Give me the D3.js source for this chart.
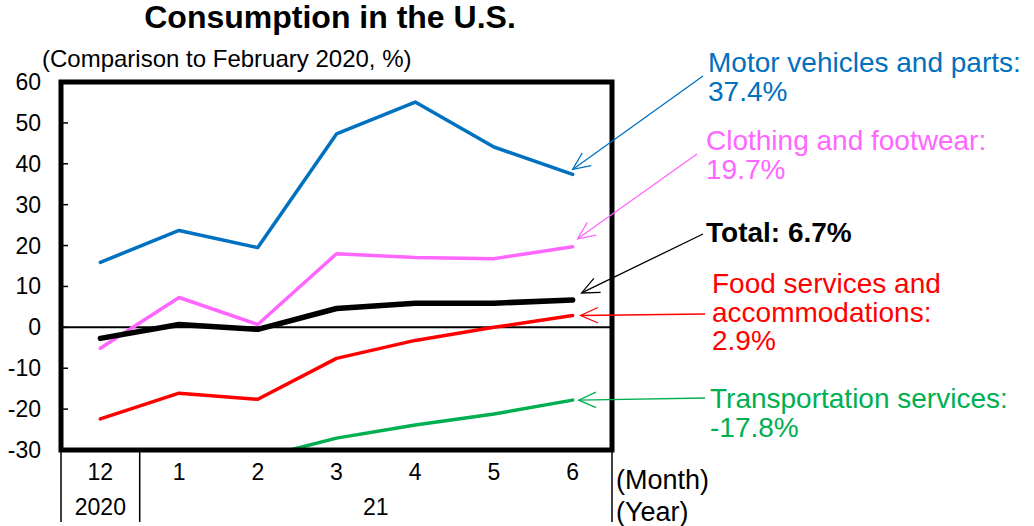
<!DOCTYPE html>
<html>
<head>
<meta charset="utf-8">
<script src="https://cdn.jsdelivr.net/npm/d3@7"></script>
<style>
  body { margin: 0; background: #fff; }
  text { font-family: Arial, "Liberation Sans", sans-serif; }
</style>
</head>
<body>
<svg id="chart" width="1034" height="526"></svg>
<script>
// data
var months = ["12", "1", "2", "3", "4", "5", "6"];
var yearLabels = ["2020", "21"];
var yTicks = [60, 50, 40, 30, 20, 10, 0, -10, -20, -30];

var motor = [15.9, 23.7, 19.5, 47.3, 55.1, 44.1, 37.4];
var clothing = [-5.1, 7.3, 0.7, 18.0, 17.1, 16.8, 19.7];
var total = [-2.7, 0.7, -0.5, 4.6, 5.9, 5.9, 6.7];
var food = [-22.4, -16.1, -17.6, -7.6, -3.2, 0.0, 2.9];
var transport = [-35.0, -33.5, -32.0, -27.1, -23.9, -21.2, -17.8];

var series = [
    { name: "Motor vehicles and parts:", last: "37.4%", values: motor, color: "#0070c0", width: 3.5 },
    { name: "Clothing and footwear:", last: "19.7%", values: clothing, color: "#ff66ff", width: 3.5 },
    { name: "Food services and|accommodations:", last: "2.9%", values: food, color: "#ff0000", width: 3.5 },
    { name: "Transportation services:", last: "-17.8%", values: transport, color: "#00b050", width: 3.5 },
    { name: "Total: 6.7%", last: null, values: total, color: "#000000", width: 5.5 }
];

var svg = d3.select("#chart"),
    pLeft = 61, pRight = 612, pTop = 82, pBottom = 450;

var x = d3.scaleBand().domain(months).range([pLeft, pRight]);
var y = d3.scaleLinear().domain([-30, 60]).range([pBottom, pTop]);

svg.append("defs").append("clipPath").attr("id", "plotClip")
    .append("rect").attr("x", pLeft).attr("y", pTop).attr("width", pRight - pLeft).attr("height", pBottom - pTop);

// title
svg.append("text").attr("x", 330).attr("y", 28).attr("text-anchor", "middle")
    .attr("font-size", 32).attr("font-weight", "bold").text("Consumption in the U.S.");
svg.append("text").attr("x", 42).attr("y", 67).attr("font-size", 24)
    .text("(Comparison to February 2020, %)");

// y axis labels + ticks
svg.selectAll(".ytick").data(yTicks).enter().append("text")
    .attr("class", "ytick")
    .attr("x", 41).attr("y", function(d) { return y(d) + 8; })
    .attr("text-anchor", "end").attr("font-size", 23)
    .text(function(d) { return d; });
svg.selectAll(".ytickline").data(yTicks).enter().append("line")
    .attr("x1", pLeft).attr("x2", pLeft + 7)
    .attr("y1", function(d) { return y(d); }).attr("y2", function(d) { return y(d); })
    .attr("stroke", "#000").attr("stroke-width", 1.5);

// zero line
svg.append("line").attr("x1", pLeft).attr("x2", pRight).attr("y1", y(0)).attr("y2", y(0))
    .attr("stroke", "#000").attr("stroke-width", 2);

// lines
var line = d3.line()
    .x(function(d, i) { return x(months[i]) + x.bandwidth() / 2; })
    .y(function(d) { return y(d); });

var g = svg.append("g").attr("clip-path", "url(#plotClip)");
g.selectAll(".series").data(series).enter().append("path")
    .attr("d", function(d) { return line(d.values); })
    .attr("fill", "none")
    .attr("stroke", function(d) { return d.color; })
    .attr("stroke-width", function(d) { return d.width; })
    .attr("stroke-linejoin", "round")
    .attr("stroke-linecap", "round");

// frame
svg.append("rect").attr("x", pLeft).attr("y", pTop).attr("width", pRight - pLeft).attr("height", pBottom - pTop)
    .attr("fill", "none").attr("stroke", "#000").attr("stroke-width", 5);

// x axis category table
var sepX = [pLeft, x("1"), pRight];
svg.selectAll(".sep").data(sepX).enter().append("line")
    .attr("x1", function(d) { return d; }).attr("x2", function(d) { return d; })
    .attr("y1", pBottom).attr("y2", 522)
    .attr("stroke", "#000").attr("stroke-width", 1.5);
svg.selectAll(".month").data(months).enter().append("text")
    .attr("x", function(d) { return x(d) + x.bandwidth() / 2; })
    .attr("y", 480).attr("text-anchor", "middle").attr("font-size", 23)
    .text(function(d) { return d; });
svg.append("text").attr("x", (pLeft + x("1")) / 2).attr("y", 515)
    .attr("text-anchor", "middle").attr("font-size", 23).text(yearLabels[0]);
svg.append("text").attr("x", (x("1") + pRight) / 2).attr("y", 515)
    .attr("text-anchor", "middle").attr("font-size", 23).text(yearLabels[1]);
svg.append("text").attr("x", 616).attr("y", 489).attr("font-size", 27).text("(Month)");
svg.append("text").attr("x", 616).attr("y", 521).attr("font-size", 27).text("(Year)");

// annotations
var xEnd = x("6") + x.bandwidth() / 2;
var notes = [
    { s: series[0], tx: 708, ty: 72, from: [703, 76], tipDx: 0, tipDy: -5 },
    { s: series[1], tx: 706, ty: 150, from: [697, 154], tipDx: 5, tipDy: -8 },
    { s: series[4], tx: 706, ty: 242, from: [703, 234], tipDx: 9, tipDy: -7, bold: true },
    { s: series[2], tx: 712, ty: 293, from: [705, 314], tipDx: 8, tipDy: 0 },
    { s: series[3], tx: 710, ty: 408, from: [705, 398], tipDx: 6, tipDy: 0 }
];

notes.forEach(function(n) {
    var last = n.s.values[n.s.values.length - 1];
    var tip = [xEnd + n.tipDx, y(last) + n.tipDy];
    var ang = Math.atan2(n.from[1] - tip[1], n.from[0] - tip[0]);
    svg.append("line")
        .attr("x1", n.from[0]).attr("y1", n.from[1]).attr("x2", tip[0]).attr("y2", tip[1])
        .attr("stroke", n.s.color).attr("stroke-width", 1.3);
    var len = 19, spread = 0.42;
    var p1 = [tip[0] + len * Math.cos(ang + spread), tip[1] + len * Math.sin(ang + spread)];
    var p2 = [tip[0] + len * Math.cos(ang - spread), tip[1] + len * Math.sin(ang - spread)];
    svg.append("path")
        .attr("d", "M" + p1 + "L" + tip + "L" + p2)
        .attr("fill", "none").attr("stroke", n.s.color).attr("stroke-width", 1.3);

    var lines = n.s.name.split("|");
    if (n.s.last) lines.push(n.s.last);
    var t = svg.append("text").attr("x", n.tx).attr("y", n.ty)
        .attr("font-size", 28).attr("fill", n.s.color)
        .attr("font-weight", n.bold ? "bold" : "normal");
    lines.forEach(function(l, i) {
        t.append("tspan").attr("x", n.tx).attr("dy", i === 0 ? 0 : 28.5).text(l);
    });
});
</script>
</body>
</html>
